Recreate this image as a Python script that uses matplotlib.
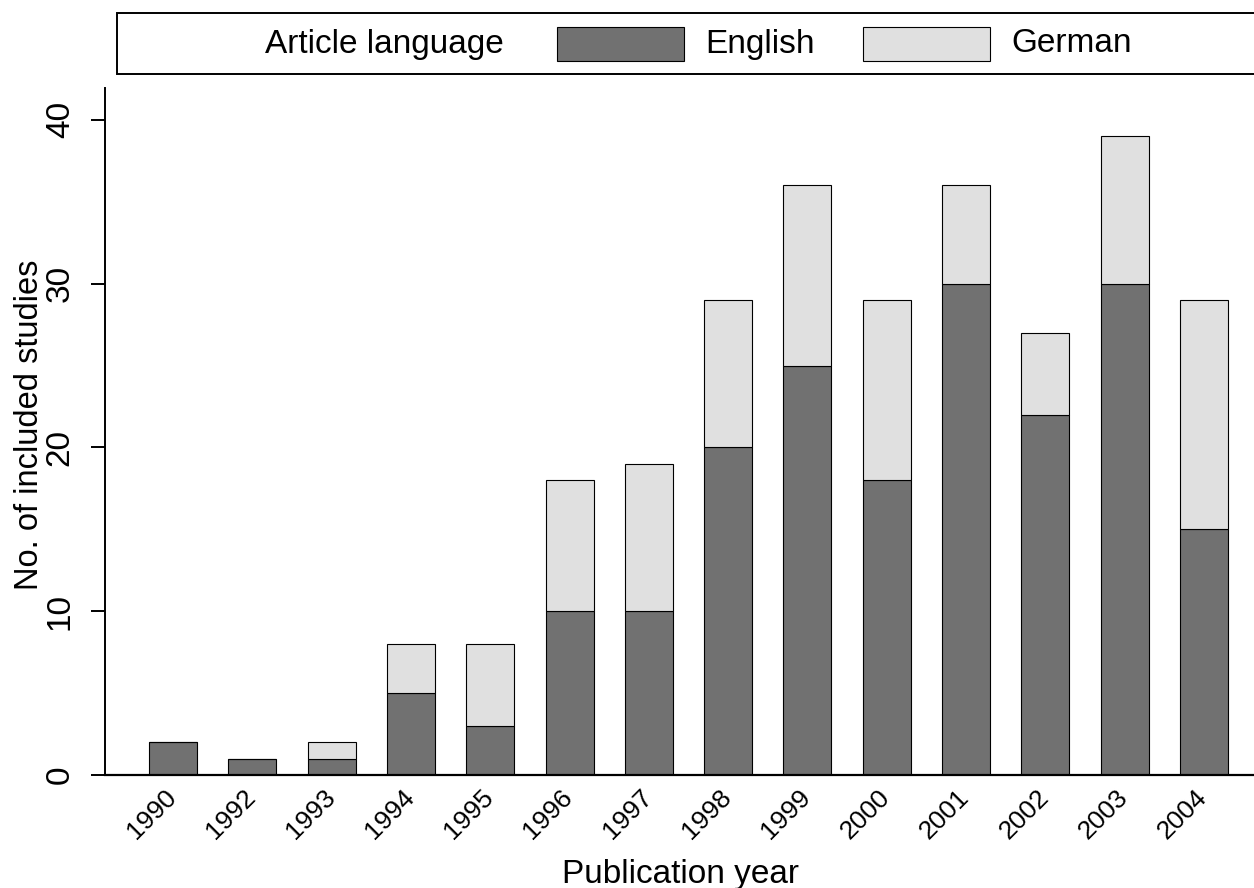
import numpy as np
import matplotlib
matplotlib.use("Agg")
import matplotlib.pyplot as plt
from matplotlib.patches import Rectangle
from matplotlib.transforms import ScaledTranslation

plt.rcParams['font.family'] = ['Liberation Sans', 'DejaVu Sans']

years = ['1990', '1992', '1993', '1994', '1995', '1996', '1997',
         '1998', '1999', '2000', '2001', '2002', '2003', '2004']
english = [2, 1, 1, 5, 3, 10, 10, 20, 25, 18, 30, 22, 30, 15]
german = [0, 0, 1, 3, 5, 8, 9, 9, 11, 11, 6, 5, 9, 14]
series_names = ['English', 'German']
series_colors = ['#717171', '#e0e0e0']
yticks = [0, 10, 20, 30, 40]

W, H = 1254, 888
fig = plt.figure(figsize=(W / 100, H / 100), dpi=100)
ax = fig.add_axes([105 / W, (H - 775) / H, 1 - 105 / W, (775 - 88) / H])

x = np.arange(len(years))
ax.bar(x, english, width=0.605, color=series_colors[0], edgecolor='black', linewidth=0.8)
ax.bar(x, german, width=0.605, bottom=english, color=series_colors[1], edgecolor='black', linewidth=0.8)

ax.set_xlim(-0.857, 13.63)
ax.set_ylim(0, 41.95)
for s in ['top', 'right', 'bottom']:
    ax.spines[s].set_visible(False)
ax.spines['left'].set_linewidth(1.4)
ax.axhline(0, color='black', linewidth=1.6, clip_on=False)

ax.set_yticks(yticks)
ax.set_yticklabels([str(t) for t in yticks], rotation=90, va='center', fontsize=24)
ax.tick_params(axis='y', length=10, width=1.4, pad=11)
ax.set_xticks(x)
ax.set_xticklabels(years, rotation=45, ha='right', va='top', fontsize=19)
ax.tick_params(axis='x', length=0, pad=7)
shift = ScaledTranslation(8 / 100, 0, fig.dpi_scale_trans)
for lab in ax.get_xticklabels():
    lab.set_transform(lab.get_transform() + shift)

fig.text(680 / W, (H - 883) / H, 'Publication year', ha='center', va='baseline', fontsize=24)
fig.text(30 / W, (H - 425) / H, 'No. of included studies', rotation=90, ha='center', va='center', fontsize=23.5)

# legend box on top
fig.patches.append(Rectangle((117 / W, (H - 74) / H), 1.2, 61 / H, transform=fig.transFigure,
                             facecolor='white', edgecolor='black', linewidth=1.4))
fig.text(265 / W, (H - 44) / H, 'Article language', ha='left', va='center', fontsize=24)
patch_x = [557, 863]
text_x = [705, 1011]
for px, tx, name, col in zip(patch_x, text_x, series_names, series_colors):
    fig.patches.append(Rectangle((px / W, (H - 61) / H), 127 / W, 34 / H, transform=fig.transFigure,
                                 facecolor=col, edgecolor='black', linewidth=0.8))
    fig.text(tx / W, (H - 44) / H, name, ha='left', va='center', fontsize=24)

fig.savefig('out.png', dpi=100)
